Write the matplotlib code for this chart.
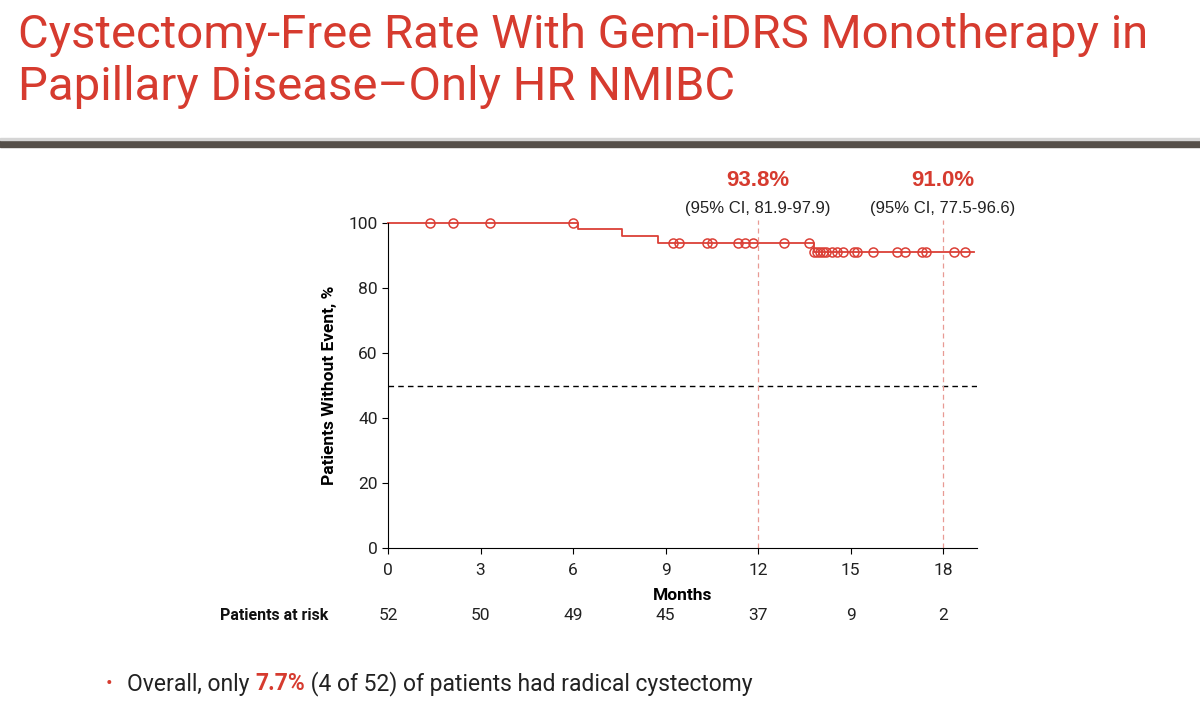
import matplotlib
matplotlib.use("Agg")
import matplotlib.pyplot as plt
import numpy as np

plt.rcParams['font.family'] = ['Roboto', 'DejaVu Sans']

# KM step data (months, % without event)
step_times = [0, 6.16, 7.58, 8.76, 13.82, 19.0]
step_surv = [100, 98.1, 96.1, 93.8, 91.0, 91.0]

# censored observations (months)
censor_times = [1.36, 2.1, 3.31, 6.01, 9.23, 9.45, 10.34, 10.52, 11.36, 11.58, 11.85,
                12.83, 13.64, 13.82, 13.9, 14.0, 14.1, 14.2, 14.39, 14.55, 14.75,
                15.1, 15.22, 15.72, 16.5, 16.77, 17.31, 17.45, 18.34, 18.72]

risk_times = [0, 3, 6, 9, 12, 15, 18]
risk_counts = [52, 50, 49, 45, 37, 9, 2]

landmarks = [12, 18]
landmark_rates = ["93.8%", "91.0%"]
landmark_ci = ["(95% CI, 81.9-97.9)", "(95% CI, 77.5-96.6)"]

RED = '#d63b2f'
LINE_RED = '#db4037'

fig = plt.figure(figsize=(12, 7.14), dpi=100)

# header
fig.text(18 / 1200, 1 - 35 / 714, "Cystectomy-Free Rate With Gem-iDRS Monotherapy in",
         color=RED, fontsize=34, va='center', ha='left')
fig.text(18 / 1200, 1 - 87 / 714, "Papillary Disease\u2013Only HR NMIBC",
         color=RED, fontsize=34, va='center', ha='left')
fig.add_artist(plt.Rectangle((0, 1 - 147 / 714), 1, 7 / 714, color='#554f49',
                             transform=fig.transFigure))
fig.add_artist(plt.Rectangle((0, 1 - 140 / 714), 1, 2 / 714, color='#d5d5d5',
                             transform=fig.transFigure))

ax = fig.add_axes([388 / 1200, 1 - 548 / 714, 589 / 1200, 325 / 714])


def surv_at(t):
    idx = np.searchsorted(step_times, t, side='right') - 1
    return step_surv[idx]


ax.step(step_times, step_surv, where='post', color=LINE_RED, lw=1.3, clip_on=False)
ax.plot(censor_times, [surv_at(t) for t in censor_times], 'o', mfc='none',
        mec=LINE_RED, ms=6.5, mew=1.1, clip_on=False)

ax.axhline(50, color='black', ls='--', lw=1, dashes=(4, 3))
for t in landmarks:
    ax.plot([t, t], [0, 101], color='#e89a94', ls='--', lw=0.9, dashes=(4, 3),
            clip_on=False)

ax.set_xlim(0, 19.1)
ax.set_ylim(0, 100)
ax.set_xticks(risk_times)
ax.set_yticks([0, 20, 40, 60, 80, 100])
ax.spines['top'].set_visible(False)
ax.spines['right'].set_visible(False)
ax.tick_params(labelsize=12.5, length=4, color='black', labelcolor='#222222')
ax.tick_params(axis='x', pad=7)
ax.set_xlabel("Months", fontsize=12.5, fontweight='bold', labelpad=7)
ax.set_ylabel("Patients Without Event, %", fontsize=12.5, fontweight='bold', labelpad=8)

# landmark annotations
for t, r, ci in zip(landmarks, landmark_rates, landmark_ci):
    ax.text(t, 100 + (223 - 180) / 3.25, r, family=['Liberation Sans', 'DejaVu Sans'],
            color=RED, fontsize=16, fontweight='bold', ha='center', va='center')
    ax.text(t, 100 + (223 - 208) / 3.25, ci, family=['Liberation Sans', 'DejaVu Sans'],
            color='#222222', fontsize=12, ha='center', va='center')

# patients at risk
risk_y = -(616 - 548) / 3.25
for t, n in zip(risk_times, risk_counts):
    ax.text(t, risk_y, str(n), fontsize=12.5, ha='center', va='center', color='#222222')
ax.text(-60 / 30.83, risk_y, "Patients at risk", fontsize=11.5, fontweight='bold',
        ha='right', va='center', color='#111111')

# bullet note
by = 1 - 684 / 714
fig.text(106 / 1200, by, "\u2022", color=RED, fontsize=14, va='center')
r = fig.canvas.get_renderer()
part1 = fig.text(127 / 1200, by, "Overall, only ", fontsize=16.5, va='center',
                 color='#222222')
w1 = part1.get_window_extent(renderer=r).width / 1200
pct = fig.text(127 / 1200 + w1, by, "7.7%", fontsize=16.5, va='center',
               color=RED, fontweight='bold')
w2 = pct.get_window_extent(renderer=r).width / 1200
fig.text(127 / 1200 + w1 + w2, by, " (4 of 52) of patients had radical cystectomy",
         fontsize=16.5, va='center', color='#222222')

fig.savefig("out.png", dpi=100)
